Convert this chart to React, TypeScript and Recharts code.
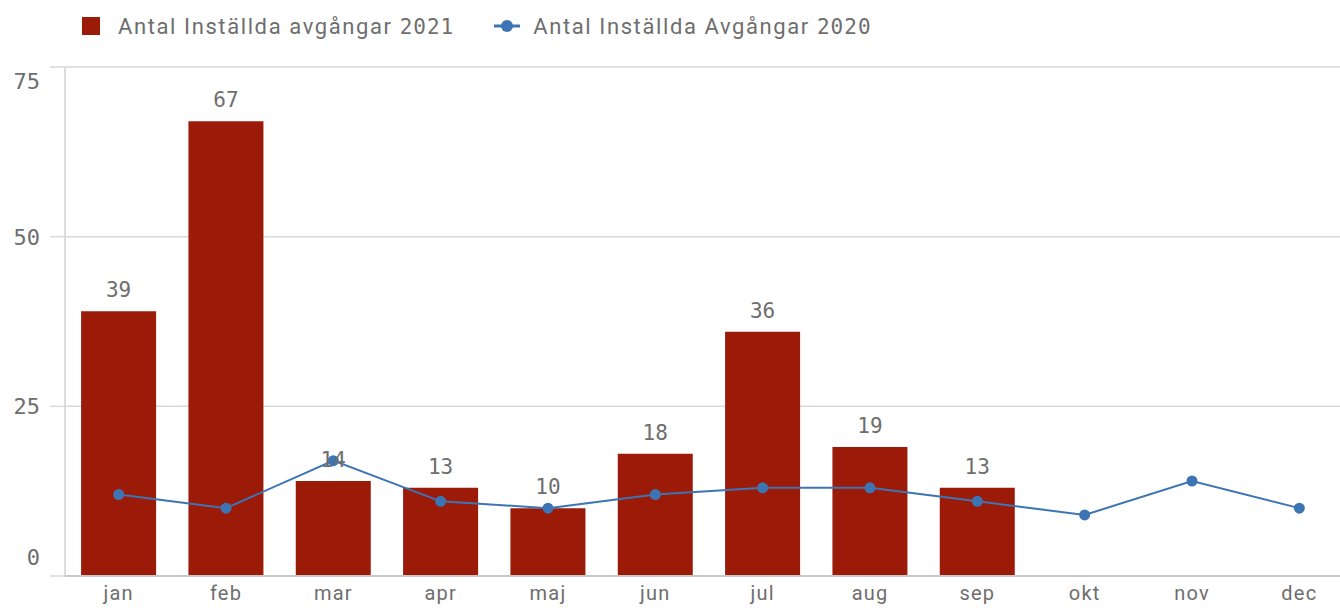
import React from 'react';
import { ComposedChart, Bar, Line, XAxis, YAxis, CartesianGrid, LabelList, Legend } from 'recharts';

const months = ['jan', 'feb', 'mar', 'apr', 'maj', 'jun', 'jul', 'aug', 'sep', 'okt', 'nov', 'dec'];
const cancelled2021: (number | null)[] = [39, 67, 14, 13, 10, 18, 36, 19, 13, null, null, null];
const cancelled2020: number[] = [12, 10, 17, 11, 10, 12, 13, 13, 11, 9, 14, 10];
const yTicks = [0, 25, 50, 75];

const name2021 = 'Antal Inställda avgångar 2021';
const name2020 = 'Antal Inställda Avgångar 2020';

const data = months.map((m, i) => ({ month: m, v2021: cancelled2021[i], v2020: cancelled2020[i] }));

const BAR_COLOR = '#9b1a08';
const LINE_COLOR = '#3d74b3';
const TEXT_COLOR = '#6e6e6e';
const TEXT_FONT = 'Roboto, sans-serif';
const NUM_FONT = '"DejaVu Sans Mono", monospace';

const YTick = (props: any) => {
  const { x, y, payload } = props;
  let dy = 8;
  if (payload.value === 75) dy = 22;
  if (payload.value === 0) dy = -11;
  return (
    <text x={x - 8} y={y + dy} textAnchor="end" fill={TEXT_COLOR} fontFamily={NUM_FONT} fontSize={22}>
      {payload.value}
    </text>
  );
};

const XTick = (props: any) => {
  const { x, y, payload } = props;
  return (
    <text x={x} y={y + 16} textAnchor="middle" fill={TEXT_COLOR} fontFamily={TEXT_FONT} fontSize={20} letterSpacing={1.2}>
      {payload.value}
    </text>
  );
};

const splitName = (s: string) => {
  const idx = s.lastIndexOf(' ');
  return [s.slice(0, idx + 1), s.slice(idx + 1)];
};

const LegendContent = () => {
  const items = [
    { name: name2021, type: 'bar' },
    { name: name2020, type: 'line' },
  ];
  return (
    <div style={{ display: 'flex', alignItems: 'center', height: 40 }}>
      {items.map((it, i) => {
        const [a, b] = splitName(it.name);
        return (
          <div key={i} style={{ display: 'flex', alignItems: 'center', marginLeft: i === 0 ? 82 : 40 }}>
            {it.type === 'bar' ? (
              <svg width={18} height={18} style={{ marginRight: 18 }}>
                <rect x={0} y={0} width={18} height={18} fill={BAR_COLOR} />
              </svg>
            ) : (
              <svg width={26} height={18} style={{ marginRight: 13 }}>
                <line x1={0} y1={9} x2={26} y2={9} stroke={LINE_COLOR} strokeWidth={3} />
                <circle cx={13} cy={9} r={6} fill={LINE_COLOR} />
              </svg>
            )}
            <span style={{ fontFamily: TEXT_FONT, fontSize: 22, color: TEXT_COLOR, letterSpacing: 1.6, whiteSpace: 'nowrap' }}>
              {a}
              <span style={{ fontFamily: NUM_FONT, fontSize: 21, letterSpacing: 1 }}>{b}</span>
            </span>
          </div>
        );
      })}
    </div>
  );
};

const BarLabel = (props: any) => {
  const { x, y, width, value } = props;
  if (value == null) return null;
  return (
    <text x={x + width / 2} y={y - 14} textAnchor="middle" fill={TEXT_COLOR} fontFamily={NUM_FONT} fontSize={21}>
      {value}
    </text>
  );
};

export default function App() {
  return (
    <div style={{ position: 'absolute', left: 0, top: 0, width: 1340, height: 613, overflow: 'hidden', background: '#fff' }}>
      <ComposedChart
        width={1360}
        height={613}
        data={data}
        margin={{ top: 27, right: 7, bottom: 0, left: 0 }}
        barCategoryGap="15%"
      >
        <CartesianGrid vertical={false} stroke="#d9d9d9" strokeWidth={1.5} />
        <XAxis
          dataKey="month"
          height={37}
          tick={<XTick />}
          tickLine={false}
          axisLine={{ stroke: '#c8c8c8', strokeWidth: 2 }}
        />
        <YAxis
          width={65}
          domain={[0, 75]}
          ticks={yTicks}
          tick={<YTick />}
          tickSize={15}
          tickLine={{ stroke: '#d9d9d9', strokeWidth: 1.5 }}
          axisLine={{ stroke: '#d0d0d0', strokeWidth: 1.5 }}
          interval={0}
        />
        <Legend
          verticalAlign="top"
          align="left"
          wrapperStyle={{ position: 'absolute', top: 6, left: 0 }}
          content={<LegendContent />}
        />
        <Bar dataKey="v2021" name={name2021} fill={BAR_COLOR} isAnimationActive={false}>
          <LabelList dataKey="v2021" content={<BarLabel />} />
        </Bar>
        <Line
          dataKey="v2020"
          name={name2020}
          stroke={LINE_COLOR}
          strokeWidth={2}
          dot={{ r: 5.5, fill: LINE_COLOR, stroke: LINE_COLOR, strokeWidth: 0 }}
          activeDot={false}
          isAnimationActive={false}
        />
      </ComposedChart>
    </div>
  );
}
